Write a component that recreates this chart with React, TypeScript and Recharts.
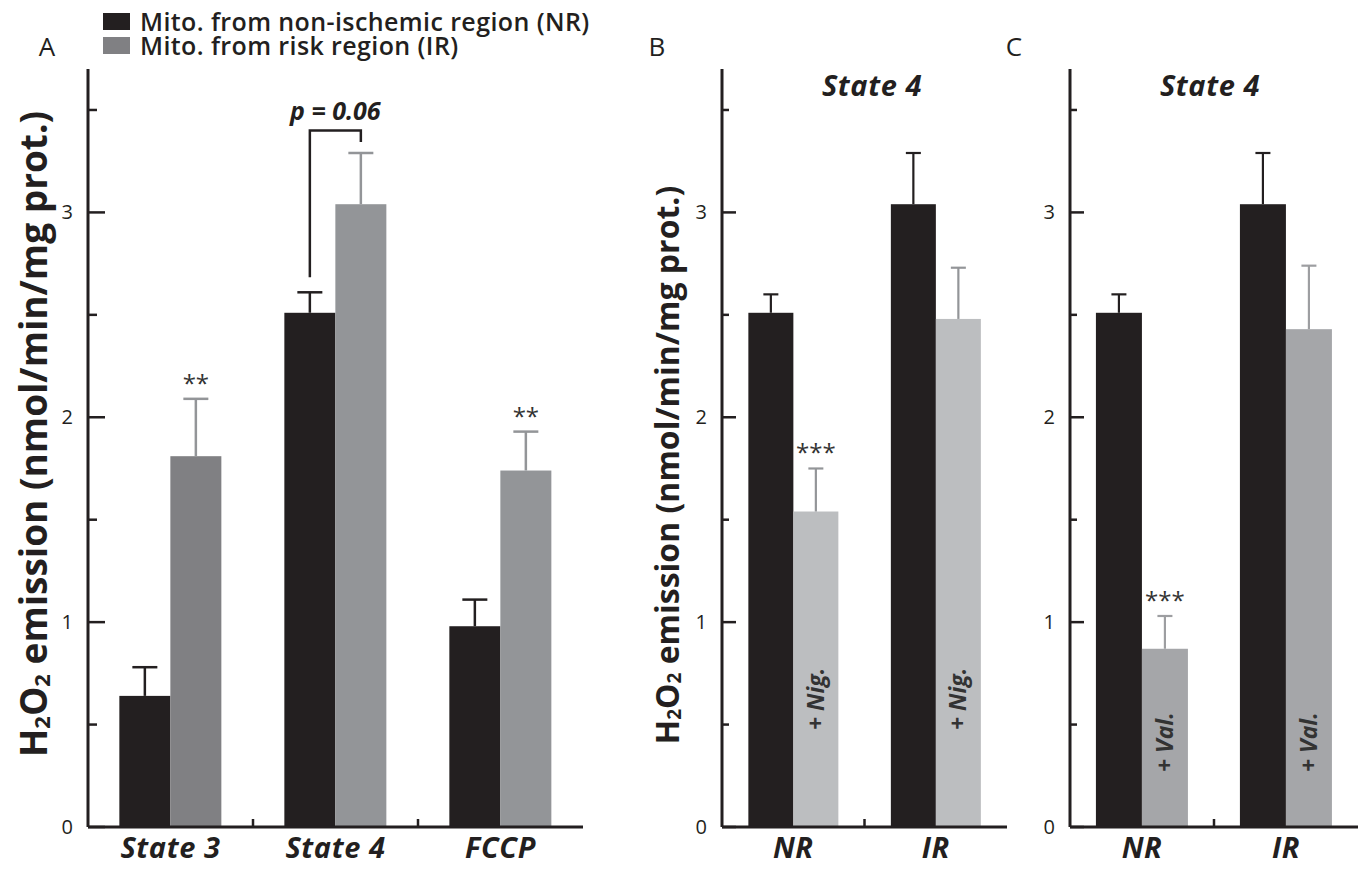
import React from 'react';
import { BarChart, Bar, XAxis, YAxis, Legend, LabelList, Cell } from 'recharts';

// panel A: H2O2 emission by respiratory state
const groupsA = ['State 3', 'State 4', 'FCCP'];
const nrA = [0.64, 2.51, 0.98];
const nrErrA = [0.14, 0.1, 0.13];
const irA = [1.81, 3.04, 1.74];
const irErrA = [0.28, 0.25, 0.19];
const starsA = ['**', '', '**'];
const bracketA = ['', 'p = 0.06', ''];
const bracketTopA = 3.4;

// panels B and C: State 4 with nigericin / valinomycin
const groupsBC = ['NR', 'IR'];
const ctrlB = [2.51, 3.04];
const ctrlErrB = [0.09, 0.25];
const nigB = [1.54, 2.48];
const nigErrB = [0.21, 0.25];
const starsB = ['***', ''];
const ctrlC = [2.51, 3.04];
const ctrlErrC = [0.09, 0.25];
const valC = [0.87, 2.43];
const valErrC = [0.16, 0.31];
const starsC = ['***', ''];

const yTicks = [0, 0.5, 1, 1.5, 2, 2.5, 3, 3.5];
const yMax = 3.7;

const FONT = '"Open Sans", "DejaVu Sans", sans-serif';
const INK = '#231f20';
const irShadesA = ['#808083', '#939598', '#939598'];

const dataA = groupsA.map((name, i) => ({ name, nr: nrA[i], nrErr: nrErrA[i], ir: irA[i], irErr: irErrA[i] }));
const dataB = groupsBC.map((name, i) => ({ name, ctrl: ctrlB[i], ctrlErr: ctrlErrB[i], drug: nigB[i], drugErr: nigErrB[i] }));
const dataC = groupsBC.map((name, i) => ({ name, ctrl: ctrlC[i], ctrlErr: ctrlErrC[i], drug: valC[i], drugErr: valErrC[i] }));

// bar with an upward-only error whisker, scaled from the bar's own pixel height
const errShape = (valKey: string, errKey: string, color: string, cap: number, sw: number) => (p: any) => {
  const { x, y, width, height, fill, payload } = p;
  const ppu = height / payload[valKey];
  const cx = x + width / 2;
  const top = y - payload[errKey] * ppu;
  return (
    <g>
      <rect x={x} y={y} width={width} height={height} fill={fill} />
      <line x1={cx} x2={cx} y1={y} y2={top} stroke={color} strokeWidth={sw} />
      <line x1={cx - cap / 2} x2={cx + cap / 2} y1={top} y2={top} stroke={color} strokeWidth={sw} />
    </g>
  );
};

const starLabel = (vals: number[], errs: number[], stars: string[]) => (p: any) => {
  const { x, y, width, height, index } = p;
  if (!stars[index]) return null;
  const ppu = height / vals[index];
  const top = y - errs[index] * ppu;
  return (
    <text x={x + width / 2} y={top - 7} textAnchor="middle" fontSize={24} fill="#333" fontFamily={FONT}>
      {stars[index]}
    </text>
  );
};

const drugLabel = (text: string, lift: number) => (p: any) => {
  const { x, y, width, height } = p;
  const cx = x + width / 2;
  const by = y + height - lift;
  return (
    <text
      x={cx}
      y={by}
      transform={`rotate(-90 ${cx} ${by})`}
      dy="0.35em"
      textAnchor="start"
      fontSize={23}
      fontWeight={700}
      fontStyle="italic"
      fill="#333"
      fontFamily={FONT}
    >
      {text}
    </text>
  );
};

const bracketLabel = (p: any) => {
  const { x, y, width, height, index } = p;
  if (!bracketA[index]) return null;
  const ppu = height / nrA[index];
  const base = y + height;
  const lx = x + width / 2;
  const rx = x + width * 1.5;
  const lBottom = y - nrErrA[index] * ppu - 15;
  const rBottom = base - (irA[index] + irErrA[index]) * ppu - 11;
  const top = base - bracketTopA * ppu;
  return (
    <g>
      <path d={`M${lx},${lBottom} L${lx},${top} L${rx},${top} L${rx},${rBottom}`} fill="none" stroke={INK} strokeWidth={2.5} />
      <text x={(lx + rx) / 2} y={top - 10} textAnchor="middle" fontSize={25} fontWeight={700} fontStyle="italic" fill={INK} fontFamily={FONT}>
        {bracketA[index]}
      </text>
    </g>
  );
};

const YTick = (p: any) => {
  const { x, y, payload, major, minor } = p;
  const isMajor = Number.isInteger(payload.value);
  return (
    <g>
      <line x1={x} x2={x + (isMajor ? major : minor)} y1={y} y2={y} stroke={INK} strokeWidth={2.5} />
      {isMajor && (
        <text x={x - 15} y={y} dy="0.35em" textAnchor="end" fontSize={20} fill={INK} fontFamily={FONT}>
          {payload.value}
        </text>
      )}
    </g>
  );
};

const XTick = (p: any) => {
  const { x, y, payload, index, band, count } = p;
  return (
    <g>
      <text x={x} y={y + 31} textAnchor="middle" fontSize={29} letterSpacing={0.6} fontWeight={700} fontStyle="italic" fill={INK} fontFamily={FONT}>
        {payload.value}
      </text>
      {index < count - 1 && <line x1={x + band / 2} x2={x + band / 2} y1={y} y2={y - 8} stroke={INK} strokeWidth={2.5} />}
    </g>
  );
};

const YLabel = (size: number, shift: number) => (p: any) => {
  const { viewBox } = p;
  const cx = viewBox.x + viewBox.width - 56;
  const cy = viewBox.y + viewBox.height / 2 + shift;
  const sub = Math.round(size * 0.6);
  return (
    <text
      x={cx}
      y={cy}
      transform={`rotate(-90 ${cx} ${cy})`}
      textAnchor="middle"
      dominantBaseline="central"
      fontSize={size}
      fontWeight={700}
      fill={INK}
      fontFamily={FONT}
    >
      H<tspan fontSize={sub} dy={size * 0.25}>2</tspan>
      <tspan dy={-size * 0.25}>O</tspan>
      <tspan fontSize={sub} dy={size * 0.25}>2</tspan>
      <tspan dy={-size * 0.25}> emission (nmol/min/mg prot.)</tspan>
    </text>
  );
};

const renderLegend = (props: any) => (
  <div style={{ fontFamily: FONT, fontSize: 25, fontWeight: 600, color: INK, lineHeight: '24px', letterSpacing: 0.4 }}>
    {props.payload.map((e: any) => (
      <div key={e.value} style={{ display: 'flex', alignItems: 'center', height: 24 }}>
        <span style={{ display: 'inline-block', width: 27, height: 17, background: e.color, marginRight: 10 }} />
        <span>{e.value}</span>
      </div>
    ))}
  </div>
);

const axisLine = { stroke: INK, strokeWidth: 3 };

export default function App() {
  return (
    <div style={{ position: 'absolute', left: 0, top: 0, width: 1358, height: 871, background: '#fff', fontFamily: FONT }}>
      <div style={{ position: 'absolute', left: 0, top: 0 }}>
        <BarChart width={600} height={871} data={dataA} margin={{ top: 69, right: 17, bottom: 0, left: 28 }} barCategoryGap="19%" barGap={0}>
          <XAxis dataKey="name" height={44} axisLine={axisLine} tickLine={false} tickSize={0} tickMargin={0} interval={0}
            tick={<XTick band={165} count={groupsA.length} />} />
          <YAxis domain={[0, yMax]} ticks={yTicks} width={60} axisLine={axisLine} tickLine={false} tickSize={0} tickMargin={0} interval={0}
            tick={<YTick major={17} minor={9} />} label={{ content: YLabel(37, -14) }} />
          <Legend layout="vertical" align="center" verticalAlign="middle" wrapperStyle={{ top: 9, left: 103, width: 580 }} content={renderLegend} />
          <Bar dataKey="nr" name="Mito. from non-ischemic region (NR)" fill={INK} isAnimationActive={false}
            shape={errShape('nr', 'nrErr', INK, 25, 2.5)}>
            <LabelList dataKey="nr" content={bracketLabel} />
          </Bar>
          <Bar dataKey="ir" name="Mito. from risk region (IR)" fill="#808083" isAnimationActive={false}
            shape={errShape('ir', 'irErr', '#939598', 25, 2.5)}>
            {groupsA.map((g, i) => <Cell key={g} fill={irShadesA[i]} />)}
            <LabelList dataKey="ir" content={starLabel(irA, irErrA, starsA)} />
          </Bar>
        </BarChart>
      </div>
      <div style={{ position: 'absolute', left: 610, top: 0 }}>
        <BarChart width={400} height={871} data={dataB} margin={{ top: 69, right: 3, bottom: 0, left: 52 }} barCategoryGap="18.5%" barGap={0}>
          <XAxis dataKey="name" height={44} axisLine={axisLine} tickLine={false} tickSize={0} tickMargin={0} interval={0}
            tick={<XTick band={142.5} count={groupsBC.length} />} />
          <YAxis domain={[0, yMax]} ticks={yTicks} width={60} axisLine={axisLine} tickLine={false} tickSize={0} tickMargin={0} interval={0}
            tick={<YTick major={14} minor={7} />} label={{ content: YLabel(32, 17) }} />
          <Bar dataKey="ctrl" fill={INK} isAnimationActive={false} shape={errShape('ctrl', 'ctrlErr', INK, 15, 2.2)} />
          <Bar dataKey="drug" fill="#bcbec0" isAnimationActive={false} shape={errShape('drug', 'drugErr', '#939598', 15, 2.2)}>
            <LabelList dataKey="drug" content={starLabel(nigB, nigErrB, starsB)} />
            <LabelList dataKey="drug" content={drugLabel('+ Nig.', 97)} />
          </Bar>
        </BarChart>
      </div>
      <div style={{ position: 'absolute', left: 1010, top: 0 }}>
        <BarChart width={348} height={871} data={dataC} margin={{ top: 69, right: 0, bottom: 0, left: 0 }} barCategoryGap="18%" barGap={0}>
          <XAxis dataKey="name" height={44} axisLine={axisLine} tickLine={false} tickSize={0} tickMargin={0} interval={0}
            tick={<XTick band={144} count={groupsBC.length} />} />
          <YAxis domain={[0, yMax]} ticks={yTicks} width={60} axisLine={axisLine} tickLine={false} tickSize={0} tickMargin={0} interval={0}
            tick={<YTick major={14} minor={7} />} />
          <Bar dataKey="ctrl" fill={INK} isAnimationActive={false} shape={errShape('ctrl', 'ctrlErr', INK, 15, 2.2)} />
          <Bar dataKey="drug" fill="#a5a6a9" isAnimationActive={false} shape={errShape('drug', 'drugErr', '#9d9ea1', 15, 2.2)}>
            <LabelList dataKey="drug" content={starLabel(valC, valErrC, starsC)} />
            <LabelList dataKey="drug" content={drugLabel('+ Val.', 55)} />
          </Bar>
        </BarChart>
      </div>
      <svg width={1358} height={871} style={{ position: 'absolute', left: 0, top: 0, pointerEvents: 'none' }} fontFamily={FONT}>
        <text x={47} y={56} textAnchor="middle" fontSize={26} fill={INK}>A</text>
        <text x={657} y={56} textAnchor="middle" fontSize={26} fill={INK}>B</text>
        <text x={1014} y={56} textAnchor="middle" fontSize={26} fill={INK}>C</text>
        <text x={872} y={96} textAnchor="middle" fontSize={29} letterSpacing={0.6} fontWeight={700} fontStyle="italic" fill={INK}>State 4</text>
        <text x={1210} y={96} textAnchor="middle" fontSize={29} letterSpacing={0.6} fontWeight={700} fontStyle="italic" fill={INK}>State 4</text>
      </svg>
    </div>
  );
}
